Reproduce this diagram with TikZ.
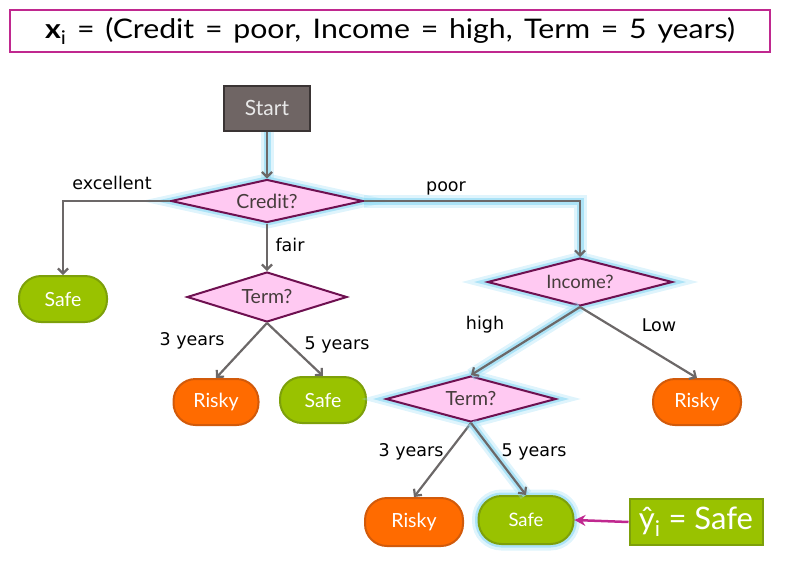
\documentclass[tikz,border=0pt]{standalone}
\usepackage{fontspec}
\setmainfont{Lato}
\newfontfamily\lblfont{DejaVu Sans}
\newfontfamily\hdrfont[FakeStretch=1.12]{Lato}
\usetikzlibrary{shapes.geometric,arrows.meta}
\definecolor{magbd}{RGB}{192,40,143}
\definecolor{startfill}{RGB}{111,101,100}
\definecolor{startbd}{RGB}{58,52,52}
\definecolor{startfg}{RGB}{232,232,232}
\definecolor{dfill}{RGB}{255,201,242}
\definecolor{dbd}{RGB}{110,16,80}
\definecolor{dtext}{RGB}{70,60,60}
\definecolor{arrgray}{RGB}{108,104,104}
\definecolor{gfill}{RGB}{153,194,0}
\definecolor{gbd}{RGB}{125,160,10}
\definecolor{ofill}{RGB}{255,107,0}
\definecolor{obd}{RGB}{210,90,10}
\definecolor{glowc}{RGB}{150,220,245}
\tikzset{
  glow/.style={preaction={draw=glowc,line width=13pt,opacity=0.3,-},
               preaction={draw=glowc,line width=7pt,opacity=0.7,-}},
  startbox/.style={draw=startbd,fill=startfill,line width=2pt,minimum width=86pt,minimum height=45pt,text=startfg,font=\fontsize{21}{23}\selectfont},
  dec/.style={diamond,draw=dbd,fill=dfill,line width=2pt,inner sep=0pt,aspect=4,text=dtext,font=\fontsize{19.5}{21}\selectfont},
  leaf/.style={rectangle,rounded corners=22pt,line width=2pt,minimum width=88pt,minimum height=46pt,text=white,font=\fontsize{19.5}{21}\selectfont},
  safe/.style={leaf,draw=gbd,fill=gfill},
  risky/.style={leaf,draw=obd,fill=ofill},
  arr/.style={draw=arrgray,line width=2.2pt,-{Straight Barb[length=5pt,width=10pt]}},
  lbl/.style={font=\lblfont\fontsize{17.5}{19}\selectfont,text=black},
}
\begin{document}
\begin{tikzpicture}[x=1pt,y=-1pt]
\useasboundingbox (0,0) rectangle (795,563);
% header
\node[draw=magbd,line width=2.5pt,fill=white,minimum width=760pt,minimum height=42pt] (hdr) at (390,31)
  {\hdrfont\fontsize{27}{30}\selectfont\makebox[690pt][s]{{\bfseries x}\textsubscript{i} = (Credit = poor, Income = high, Term = 5 years)}};
% nodes
\node[startbox] (start) at (267,108) {Start};
\node[dec,glow,minimum width=192pt,minimum height=43pt] (credit) at (267,201) {Credit?};
\node[safe] (safe1) at (63,299) {Safe};
\node[dec,minimum width=160pt,minimum height=50pt] (term1) at (267,297) {Term?};
\node[risky,minimum width=85pt] (risky1) at (216,402) {Risky};
\node[safe,minimum width=86pt] (safe2) at (323,400) {Safe};
\node[dec,glow,minimum width=185pt,minimum height=48pt,font=\fontsize{18.5}{20}\selectfont] (income) at (580,282) {Income?};
\node[risky] (risky2) at (697,402) {Risky};
\node[dec,glow,minimum width=170pt,minimum height=46pt] (term2) at (471,399) {Term?};
\node[risky,minimum width=98pt,minimum height=48pt] (risky3) at (414,522) {Risky};
\node[safe,glow,minimum width=95pt,minimum height=48pt,rounded corners=23pt,font=\fontsize{18.5}{20}\selectfont] (safe3) at (526,520) {Safe};
\node[draw=gbd,fill=gfill,line width=2pt,minimum width=133pt,minimum height=46pt,text=white,font=\fontsize{31}{33}\selectfont] (pred) at (696,522) {ŷ\textsubscript{i} = Safe};
% connectors
\draw[arr,glow] (start) -- (credit.north);
\draw[arr] (credit.west) -| (safe1.north);
\draw[arr] (credit.south) -- (term1.north);
\draw[arr] (term1.south) -- (risky1.north);
\draw[arr] (term1.south) -- (safe2.north);
\draw[arr,glow] (credit.east) -| (income.north);
\draw[arr,glow] (income.south) -- (term2.north);
\draw[arr] (income.south) -- (risky2.north);
\draw[arr] (term2.south) -- (risky3.north);
\draw[arr,glow] (term2.south) -- (safe3.north);
\draw[draw=magbd,line width=2.5pt,-{Stealth[length=11pt,width=11pt]}] (pred.west) -- (safe3.east);
% labels
\node[lbl] (lexc) at (112,183) {excellent};
\node[lbl] (lfair) at (290,245) {fair};
\node[lbl] (l3a) at (192,341) {3 years};
\node[lbl] (l5a) at (337,345) {5 years};
\node[lbl] (lpoor) at (446,188) {poor};
\node[lbl] (lhigh) at (485,325) {high};
\node[lbl] (llow) at (659,325) {Low};
\node[lbl] (l3b) at (411,452) {3 years};
\node[lbl] (l5b) at (534,452) {5 years};
\end{tikzpicture}
\end{document}
